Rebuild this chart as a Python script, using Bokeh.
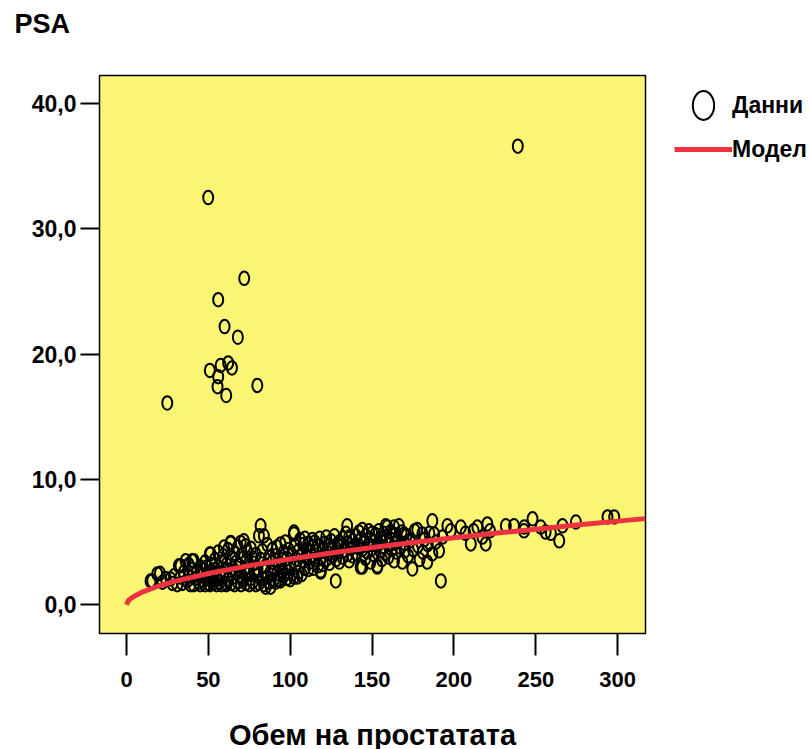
from bokeh.plotting import figure
from bokeh.models import ColumnDataSource, Range1d, Legend, LegendItem, FixedTicker, Title
from bokeh.embed import file_html
from bokeh.resources import INLINE

# ---- data ----
outlier_x = [239.0, 49.9, 71.9, 56.0, 59.9, 68.0, 62.1, 64.4, 57.5, 50.9, 56.0, 55.6, 60.9, 79.9, 24.9]
outlier_y = [36.6, 32.5, 26.05, 24.35, 22.2, 21.35, 19.3, 18.9, 19.1, 18.7, 18.2, 17.4, 16.7, 17.5, 16.1]

cluster_x = [
    14.7, 15.7, 18.8, 20.4, 22, 24, 26.9, 28, 29,
    31, 32, 33, 33, 34, 35, 36.1, 37, 38, 39, 40.1, 40, 38,
    41.1, 41, 42, 43, 44, 45, 45, 46, 47, 47, 48, 48, 49, 50, 50, 50.9, 51.3, 49,
    51, 52, 52, 53, 53, 54, 54, 55, 55, 56, 56, 57, 57, 58, 58, 59, 59.5, 59, 60, 60,
    61, 61, 62, 62, 63, 63.6, 63.6, 64, 64, 65, 65, 66, 66, 67, 67, 68, 68, 69, 69.7, 69, 70, 70,
    71, 71.7, 72, 72.7, 73, 73, 74, 74, 75, 75, 76, 76, 77, 77, 78, 78, 79, 79, 80, 80.9, 80,
    81, 81.9, 82, 83, 83, 84, 84, 85, 85, 86, 86, 87, 87, 88, 88, 89, 89, 90, 90, 83.9,
    91, 91, 92, 92, 93, 93, 94.1, 94, 95, 95, 96, 96, 97, 97, 98, 98, 99, 99, 100, 100,
    101, 102.3, 102.3, 102.3, 103, 103, 104.3, 104, 105, 105, 106, 106, 107, 107, 108, 108, 109, 109, 110, 110,
    111, 111, 112, 112, 113.5, 113, 114, 114, 115, 115, 116, 117, 117, 118.6, 118.6, 118, 119, 120, 120,
    121, 122, 122, 123, 124, 124, 125, 126, 126, 127.8, 127, 128.8, 128, 129, 130, 130,
    131, 132, 132, 133, 134, 134.8, 135, 135, 136, 136, 137, 138, 138, 139, 140, 140,
    141, 142, 143, 143, 144, 144, 144, 145, 146, 146, 147, 148, 148, 149, 149, 150, 150,
    151, 151, 152, 153.2, 153.2, 153, 154, 155, 155, 156, 156, 157, 157, 158.3, 158, 159.3, 159, 160, 160,
    161, 162, 162, 163.4, 163.4, 164, 164, 165, 166.4, 166, 167, 168.5, 168, 169.5, 170, 170,
    171, 172, 173, 174.6, 175, 176, 177.6, 178, 179, 180.7, 181, 182, 183.7, 184, 185, 186.8, 186.8, 187.9, 189, 190.9, 192, 193, 196, 198,
    204.2, 207, 210.3, 212, 214.3, 217.4, 219.4, 220.4, 222, 231.7, 236.7, 242.8, 242.9, 248, 253, 256, 259.2, 264.3, 266.3, 274.5, 293.8, 297.9,
]
cluster_y = [
    1.9, 1.9, 2.45, 2.5, 1.8, 2.1, 2.05, 1.7, 2.3,
    1.6, 3.1, 3.1, 2.2, 1.7, 2.6, 3.5, 1.9, 2.3, 1.6, 3.5, 2.8, 3.2,
    3.5, 1.6, 2.1, 2.6, 1.8, 3.0, 1.6, 2.3, 1.9, 2.8, 1.6, 3.4, 2.2, 1.7, 2.6, 4.05, 4.05, 3.0,
    1.6, 2.0, 3.2, 2.4, 1.7, 2.8, 3.6, 1.6, 2.1, 3.0, 4.2, 1.8, 2.5, 3.4, 1.6, 2.2, 4.6, 3.9, 1.7, 2.7,
    1.6, 3.2, 2.0, 4.4, 2.5, 4.97, 4.9, 1.7, 3.7, 2.2, 2.9, 1.6, 4.1, 2.6, 3.4, 1.8, 4.6, 2.3, 4.97, 3.1, 1.6, 3.9,
    2.0, 5.1, 2.8, 4.7, 1.7, 3.5, 2.4, 4.2, 1.6, 3.0, 2.1, 4.5, 3.7, 1.8, 2.6, 3.3, 1.6, 4.0, 2.3, 5.5, 2.9,
    1.7, 6.3, 3.6, 2.1, 4.3, 2.7, 1.6, 1.4, 3.1, 2.2, 4.8, 3.8, 1.8, 1.4, 2.6, 3.4, 4.4, 2.0, 2.9, 5.5,
    1.8, 3.9, 2.5, 4.6, 3.2, 2.0, 4.85, 1.9, 2.7, 3.6, 2.3, 4.2, 3.0, 5.0, 2.1, 3.7, 2.6, 4.4, 3.3, 2.0,
    4.0, 5.65, 5.8, 2.2, 3.0, 4.7, 2.2, 3.6, 4.3, 2.6, 5.2, 3.2, 2.4, 4.0, 3.5, 4.8, 2.9, 5.3, 3.8, 4.4,
    2.8, 4.9, 3.4, 4.3, 5.2, 3.9, 2.9, 4.6, 3.6, 5.0, 4.2, 3.1, 4.7, 2.7, 2.6, 5.3, 3.8, 4.4, 3.2,
    4.9, 3.6, 5.4, 4.1, 3.3, 4.7, 5.1, 3.9, 4.4, 1.9, 5.5, 4.85, 3.6, 4.2, 5.0, 3.4,
    4.6, 5.3, 3.8, 4.3, 5.7, 6.3, 4.0, 4.9, 3.5, 5.4, 4.5, 5.1, 3.9, 4.7, 5.5, 4.1,
    4.6, 5.8, 3.0, 5.2, 6.0, 3.0, 4.4, 4.9, 5.5, 3.7, 4.2, 5.9, 4.8, 3.4, 5.2, 4.5, 5.7,
    4.0, 5.0, 5.6, 3.0, 3.1, 4.7, 5.9, 4.3, 5.3, 3.6, 5.0, 5.7, 4.6, 6.3, 4.1, 6.2, 5.4, 4.8, 3.8,
    5.8, 4.4, 5.2, 3.5, 6.2, 4.9, 5.6, 4.2, 6.3, 5.1, 4.6, 3.4, 5.8, 5.65, 4.9, 4.3,
    5.5, 3.9, 5.1, 2.85, 4.4, 5.9, 6.0, 4.7, 3.6, 5.65, 4.2, 5.2, 3.4, 4.8, 5.7, 6.7, 4.05, 5.65, 5.0, 4.3, 1.9, 5.4, 6.3, 5.9,
    6.2, 5.7, 4.85, 5.9, 6.2, 5.4, 4.85, 6.45, 5.9, 6.3, 6.3, 5.9, 6.2, 6.85, 6.2, 5.8, 5.7, 5.1, 6.3, 6.6, 7.0, 7.0,
]

data_x = cluster_x + outlier_x
data_y = cluster_y + outlier_y

model_x = [0, 1, 2, 5, 10, 20, 30, 50, 75, 100, 125, 150, 175, 200, 225, 250, 275, 300, 317]
model_y = [0.0, 0.29, 0.43, 0.70, 1.03, 1.51, 1.88, 2.49, 3.12, 3.65, 4.13, 4.57, 4.97, 5.34, 5.70, 6.03, 6.36, 6.67, 6.87]

x_ticks = [0, 50, 100, 150, 200, 250, 300]
x_tick_labels = ["0", "50", "100", "150", "200", "250", "300"]
y_ticks = [0, 10, 20, 30, 40]
y_tick_labels = ["0,0", "10,0", "20,0", "30,0", "40,0"]

x_title = "Обем на простатата"
y_title = "PSA"
series_names = ["Данни", "Модел"]

FONT = "Liberation Sans"
YELLOW = "#faf572"
RED = "#ee3340"

p = figure(width=810, height=749, output_backend="svg", toolbar_location=None,
           x_range=Range1d(-16.5, 317), y_range=Range1d(-2.3, 42.24),
           frame_width=546, frame_height=558,
           min_border_left=99, min_border_right=165, min_border_top=75, min_border_bottom=116)

p.background_fill_color = YELLOW
p.border_fill_color = "white"
p.outline_line_color = "black"
p.outline_line_width = 1.5
p.xgrid.visible = False
p.ygrid.visible = False

# axes
p.xaxis.ticker = FixedTicker(ticks=x_ticks)
p.xaxis.major_label_overrides = {t: l for t, l in zip(x_ticks, x_tick_labels)}
p.yaxis.ticker = FixedTicker(ticks=y_ticks)
p.yaxis.major_label_overrides = {t: l for t, l in zip(y_ticks, y_tick_labels)}
for ax in (p.xaxis, p.yaxis):
    ax.axis_line_color = None
    ax.major_tick_in = 0
    ax.minor_tick_line_color = None
    ax.major_tick_line_color = "black"
    ax.major_tick_line_width = 2
    ax.major_label_text_font = FONT
    ax.major_label_text_font_style = "bold"
    ax.major_label_text_font_size = "22px"
    ax.major_label_text_color = "black"
p.yaxis.major_label_text_font_size = "23px"
p.xaxis.major_tick_out = 22
p.yaxis.major_tick_out = 19
p.xaxis.major_label_standoff = 16
p.yaxis.major_label_standoff = 4
p.xaxis.axis_label = x_title
p.xaxis.axis_label_text_font = FONT
p.xaxis.axis_label_text_font_style = "bold"
p.xaxis.axis_label_text_font_size = "29px"
p.xaxis.axis_label_text_color = "black"
p.xaxis.axis_label_standoff = 29

src = ColumnDataSource(data=dict(x=data_x, y=data_y))
pts = p.ellipse(x="x", y="y", width=10, height=13.5, source=src,
                width_units="screen", height_units="screen",
                fill_color=None, line_color="black", line_width=2)

msrc = ColumnDataSource(data=dict(x=model_x, y=model_y))
mline = p.line(x="x", y="y", source=msrc, line_color=RED, line_width=5)

# "PSA" as the main title; an empty spacer title sits between it and the frame
p.title = Title(text=y_title, align="left", offset=-85,
                text_font=FONT, text_font_style="bold", text_font_size="27px",
                text_color="black")
p.add_layout(Title(text=" ", text_font_size="26px", standoff=0), "above")

legend = Legend(items=[LegendItem(label=series_names[0], renderers=[pts], index=0),
                       LegendItem(label=series_names[1], renderers=[mline])],
                location=(29, 466), glyph_width=58, glyph_height=36,
                label_standoff=0, padding=0, margin=0, spacing=8,
                border_line_color=None, background_fill_alpha=0,
                label_text_font=FONT, label_text_font_style="bold",
                label_text_font_size="23px", label_text_color="black",
                label_height=36)
p.add_layout(legend, "right")

open("out.html", "w").write(file_html(p, INLINE))
